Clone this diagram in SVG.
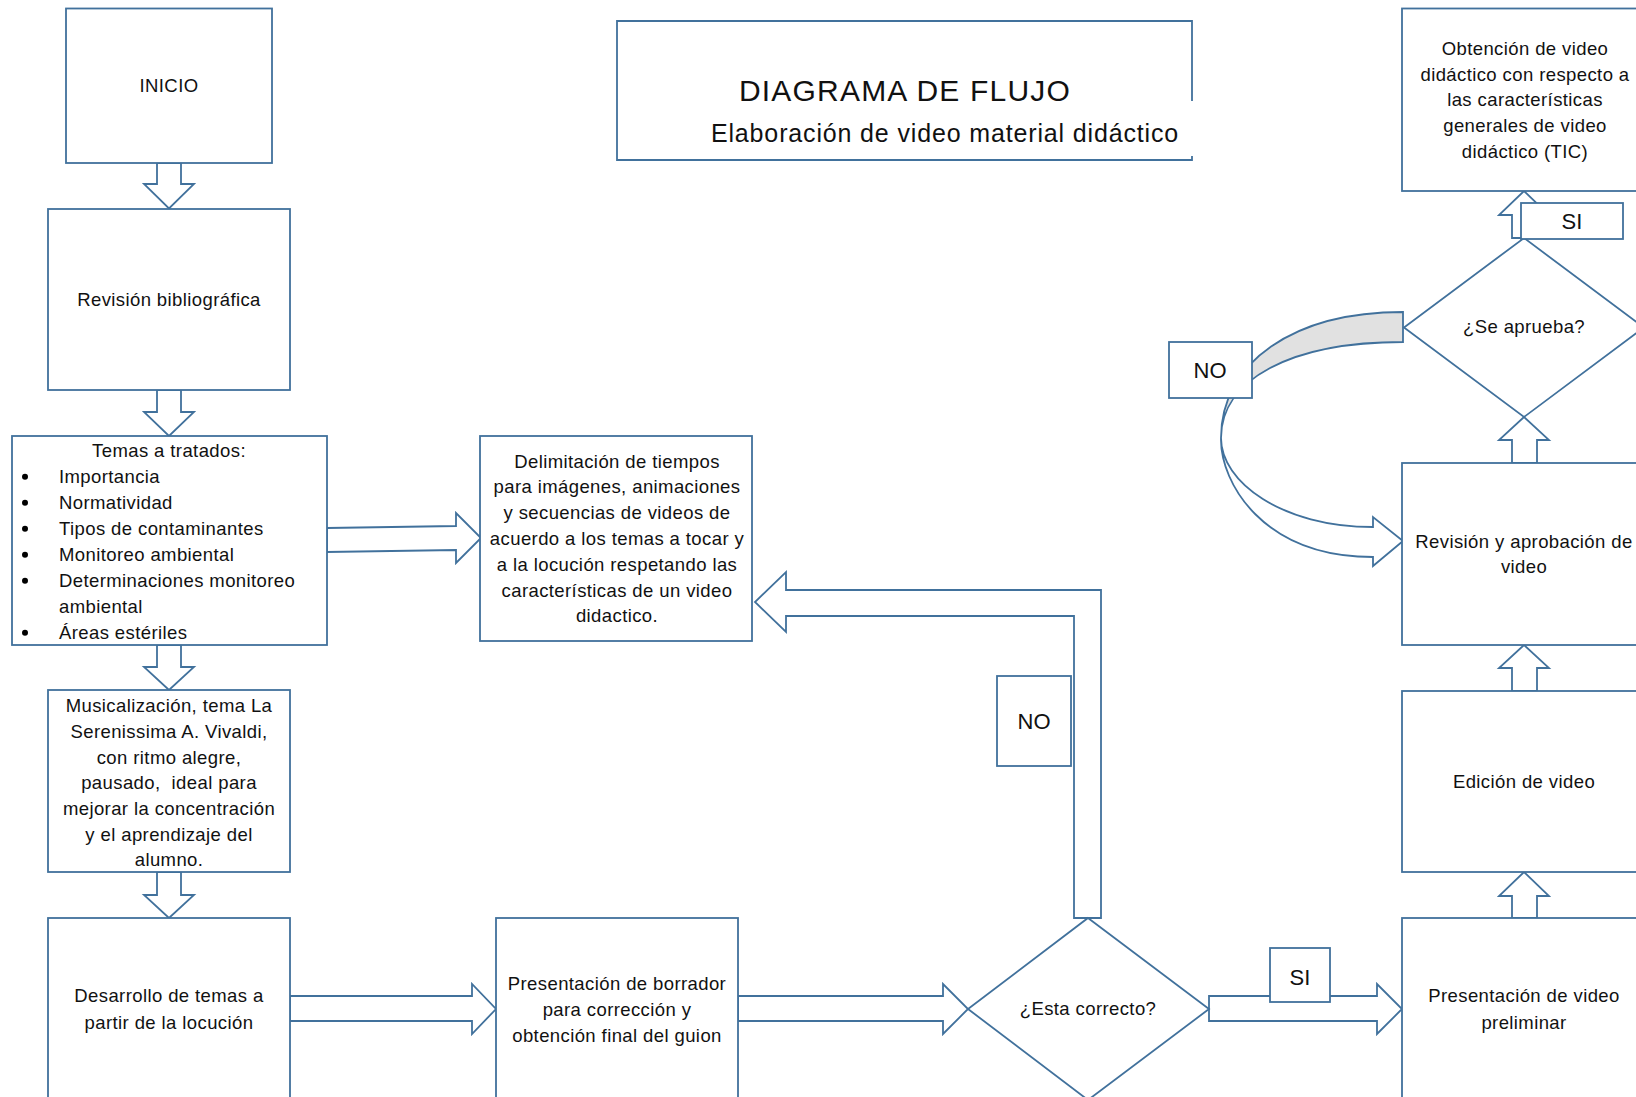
<svg xmlns="http://www.w3.org/2000/svg" width="1636" height="1097" viewBox="0 0 1636 1097">
  <style>
    .box { fill: #ffffff; stroke: #41719c; stroke-width: 1.8; }
    .arrow { fill: #ffffff; stroke: #41719c; stroke-width: 1.8; stroke-linejoin: miter; }
    .shade { fill: #e1e1e1; stroke: #41719c; stroke-width: 1.8; }
    .line { fill: none; stroke: #41719c; stroke-width: 1.8; }
    text { font-family: "Liberation Sans", Arial, sans-serif; fill: #111111; }
    .t { font-size: 18.5px; letter-spacing: 0.4px; text-anchor: middle; }
    .tl { font-size: 18.5px; letter-spacing: 0.4px; text-anchor: start; }
    .lab { font-size: 22px; text-anchor: middle; }
  </style>

  <!-- Title block -->
  <g id="title">
    <path class="line" d="M1192,101 V21 H617 V160 H1192 V156"/>
    <text x="905" y="101" font-size="30" letter-spacing="1.2" text-anchor="middle">DIAGRAMA DE FLUJO</text>
    <text x="945" y="142" font-size="25" letter-spacing="0.85" text-anchor="middle">Elaboración de video material didáctico</text>
  </g>

  <!-- Block arrows between steps -->
  <g id="connectors">
    <!-- left column, downward -->
    <path class="arrow" d="M157,163 V184 H144 L169,208.5 L194,184 H181 V163 Z"/>
    <path class="arrow" d="M157,390 V412 H144 L169,436 L194,412 H181 V390 Z"/>
    <path class="arrow" d="M157,645 V667 H144 L169,690 L194,667 H181 V645 Z"/>
    <path class="arrow" d="M157,872 V895 H144 L169,918 L194,895 H181 V872 Z"/>
    <!-- topics to timing -->
    <path class="arrow" d="M327,528 L456,526 V513 L481,538 L456,563 V550 L327,552 Z"/>
    <!-- bottom row, rightward -->
    <path class="arrow" d="M290,996 H472 V984 L496,1009 L472,1034 V1021 H290 Z"/>
    <path class="arrow" d="M738,996 H943 V984 L968,1009 L943,1034 V1021 H738 Z"/>
    <path class="arrow" d="M1209,996 H1377 V984 L1402,1009 L1377,1034 V1021 H1209 Z"/>
    <!-- NO branch back to timing -->
    <path class="arrow" d="M1074,918 V616 H786 V632 L755,602 L786,572 V590 H1101 V918 Z"/>
    <!-- right column, upward -->
    <path class="arrow" d="M1512,918 V896 H1499 L1524,872 L1549,896 H1537 V918 Z"/>
    <path class="arrow" d="M1512,691 V668 H1499 L1524,645 L1549,668 H1537 V691 Z"/>
    <path class="arrow" d="M1512,463 V440 H1499 L1524,417 L1549,440 H1537 V463 Z"/>
    <path class="arrow" d="M1512,238 V215 H1499 L1524,191 L1549,215 H1537 V238 Z"/>
    <!-- curved NO arrow: shaded back part, then front part with head -->
    <path class="shade" d="M1403,312 C1294,312 1221,362 1221,438 C1221,380 1290,342 1403,342 Z"/>
    <path class="arrow" d="M1221,440 C1221,482 1262,557 1373,557 L1373,566 L1403,541 L1373,517 L1373,527 C1282,527 1221,482 1221,438 Z"/>
  </g>

  <g id="n-inicio">
    <rect class="box" x="66" y="8.5" width="206" height="154.5"/>
    <text class="t" x="169" y="92">INICIO</text>
  </g>

  <g id="n-revision-bibliografica">
    <rect class="box" x="48" y="209" width="242" height="181"/>
    <text class="t" x="169" y="305.5">Revisión bibliográfica</text>
  </g>

  <g id="n-temas">
    <rect class="box" x="12" y="436" width="315" height="209"/>
    <text class="t" x="169" y="456.7">Temas a tratados:</text>
    <circle cx="25" cy="476.7" r="3"/>
    <circle cx="25" cy="502.7" r="3"/>
    <circle cx="25" cy="528.7" r="3"/>
    <circle cx="25" cy="554.7" r="3"/>
    <circle cx="25" cy="580.7" r="3"/>
    <circle cx="25" cy="632.7" r="3"/>
    <text class="tl" x="59" y="482.7">Importancia</text>
    <text class="tl" x="59" y="508.7">Normatividad</text>
    <text class="tl" x="59" y="534.7">Tipos de contaminantes</text>
    <text class="tl" x="59" y="560.7">Monitoreo ambiental</text>
    <text class="tl" x="59" y="586.7">Determinaciones monitoreo</text>
    <text class="tl" x="59" y="612.7">ambiental</text>
    <text class="tl" x="59" y="638.7">Áreas estériles</text>
  </g>

  <g id="n-musicalizacion">
    <rect class="box" x="48" y="690" width="242" height="182"/>
    <text class="t" x="169" y="712">Musicalización, tema La</text>
    <text class="t" x="169" y="738">Serenissima A. Vivaldi,</text>
    <text class="t" x="169" y="764">con ritmo alegre,</text>
    <text class="t" x="169" y="789.3">pausado,&#160; ideal para</text>
    <text class="t" x="169" y="815.3">mejorar la concentración</text>
    <text class="t" x="169" y="840.7">y el aprendizaje del</text>
    <text class="t" x="169" y="866">alumno.</text>
  </g>

  <g id="n-desarrollo">
    <rect class="box" x="48" y="918" width="242" height="200"/>
    <text class="t" x="169" y="1002.4">Desarrollo de temas a</text>
    <text class="t" x="169" y="1028.5">partir de la locución</text>
  </g>

  <g id="n-delimitacion">
    <rect class="box" x="480" y="436" width="272" height="205"/>
    <text class="t" x="617" y="468.2">Delimitación de tiempos</text>
    <text class="t" x="617" y="493.3">para imágenes, animaciones</text>
    <text class="t" x="617" y="519.3">y secuencias de videos de</text>
    <text class="t" x="617" y="545.4">acuerdo a los temas a tocar y</text>
    <text class="t" x="617" y="570.5">a la locución respetando las</text>
    <text class="t" x="617" y="596.6">características de un video</text>
    <text class="t" x="617" y="621.6">didactico.</text>
  </g>

  <g id="n-borrador">
    <rect class="box" x="496" y="918" width="242" height="200"/>
    <text class="t" x="617" y="990">Presentación de borrador</text>
    <text class="t" x="617" y="1016">para corrección y</text>
    <text class="t" x="617" y="1042">obtención final del guion</text>
  </g>

  <g id="n-esta-correcto">
    <polygon class="box" points="1088,918 1209,1009 1088,1100 968,1009"/>
    <text class="t" x="1088" y="1015">¿Esta correcto?</text>
  </g>

  <g id="n-video-preliminar">
    <rect class="box" x="1402" y="918" width="250" height="200"/>
    <text class="t" x="1524" y="1002.4">Presentación de video</text>
    <text class="t" x="1524" y="1028.5">preliminar</text>
  </g>

  <g id="n-edicion">
    <rect class="box" x="1402" y="691" width="250" height="181"/>
    <text class="t" x="1524" y="787.5">Edición de video</text>
  </g>

  <g id="n-revision-aprobacion">
    <rect class="box" x="1402" y="463" width="250" height="182"/>
    <text class="t" x="1524" y="547.5">Revisión y aprobación de</text>
    <text class="t" x="1524" y="572.6">video</text>
  </g>

  <g id="n-se-aprueba">
    <polygon class="box" points="1524,238 1644,327.5 1524,417 1404,327.5"/>
    <text class="t" x="1524" y="332.6">¿Se aprueba?</text>
  </g>

  <g id="n-obtencion">
    <rect class="box" x="1402" y="8.5" width="250" height="182.5"/>
    <text class="t" x="1525" y="54.7">Obtención de video</text>
    <text class="t" x="1525" y="80.7">didáctico con respecto a</text>
    <text class="t" x="1525" y="106">las características</text>
    <text class="t" x="1525" y="132">generales de video</text>
    <text class="t" x="1525" y="157.7">didáctico (TIC)</text>
  </g>

  <!-- branch labels -->
  <g id="label-si-top">
    <rect class="box" x="1521" y="203" width="102" height="36"/>
    <text class="lab" x="1572" y="229">SI</text>
  </g>
  <g id="label-no-curve">
    <rect class="box" x="1169" y="342" width="83" height="56"/>
    <text class="lab" x="1210" y="378">NO</text>
  </g>
  <g id="label-no-return">
    <rect class="box" x="997" y="676" width="74" height="90"/>
    <text class="lab" x="1034" y="729">NO</text>
  </g>
  <g id="label-si-bottom">
    <rect class="box" x="1270" y="948" width="60" height="54"/>
    <text class="lab" x="1300" y="985">SI</text>
  </g>
</svg>
